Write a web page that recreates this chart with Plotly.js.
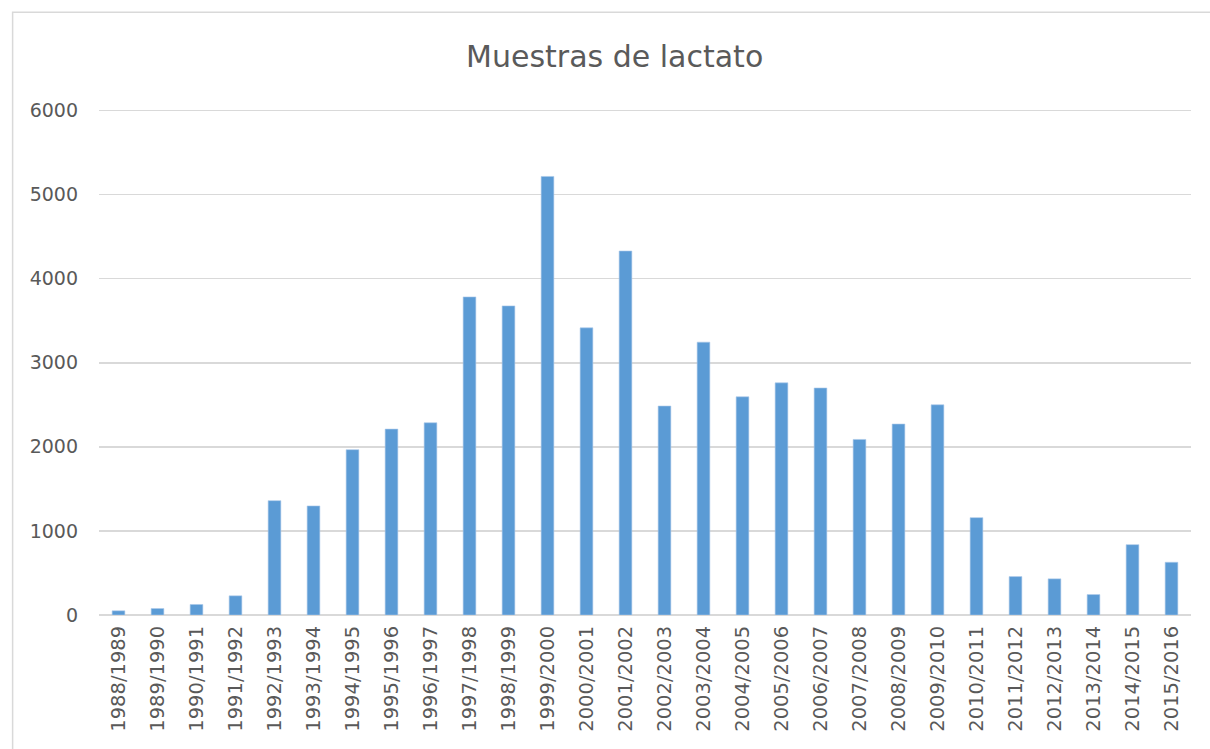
<!DOCTYPE html>
<html>
<head>
<meta charset="utf-8">
<script src="https://cdn.plot.ly/plotly-3.0.1.min.js"></script>
<style>html,body{margin:0;padding:0;background:#fff;}#chart{width:1210px;height:749px;}</style>
</head>
<body>
<div id="chart"></div>
<script>
const temporadas = ["1988/1989","1989/1990","1990/1991","1991/1992","1992/1993","1993/1994","1994/1995","1995/1996","1996/1997","1997/1998","1998/1999","1999/2000","2000/2001","2001/2002","2002/2003","2003/2004","2004/2005","2005/2006","2006/2007","2007/2008","2008/2009","2009/2010","2010/2011","2011/2012","2012/2013","2013/2014","2014/2015","2015/2016"];
const muestras = [50,77,125,228,1360,1297,1966,2211,2286,3783,3676,5216,3415,4329,2485,3245,2595,2761,2700,2088,2271,2500,1158,457,430,243,837,627];
const yTicks = [0,1000,2000,3000,4000,5000,6000];
const tituloGrafico = "Muestras de lactato";

const trace = {
  type: "bar",
  x: temporadas,
  y: muestras,
  marker: {color: "#5b9bd5", line: {color: "#a9c8ea", width: 0.6}},
  hoverinfo: "x+y"
};

const layout = {
  width: 1210,
  height: 749,
  paper_bgcolor: "#ffffff",
  plot_bgcolor: "#ffffff",
  margin: {l: 98.5, r: 18.5, t: 107.8, b: 133.7, pad: 0},
  bargap: 0.675,
  showlegend: false,
  title: {
    text: tituloGrafico,
    font: {family: "DejaVu Sans", size: 30, color: "#5a5a5a"},
    x: 0.508, xanchor: "center", xref: "container",
    y: 0.925, yanchor: "middle", yref: "container"
  },
  xaxis: {
    type: "category",
    tickangle: -90,
    tickfont: {family: "DejaVu Sans", size: 19.5, color: "#595959"},
    showgrid: false,
    showline: false,
    zeroline: false,
    ticks: "",
    ticklabelstandoff: 6,
    fixedrange: true
  },
  yaxis: {
    range: [0, 6030],
    tickvals: yTicks,
    ticktext: yTicks.map(String),
    tickfont: {family: "DejaVu Sans", size: 19, color: "#595959"},
    showgrid: true,
    gridcolor: "#d9d9d9",
    gridwidth: 1.6,
    zeroline: true,
    zerolinecolor: "#d9d9d9",
    zerolinewidth: 1.6,
    showline: false,
    ticks: "",
    ticklabelstandoff: 20,
    fixedrange: true
  },
  shapes: [{
    type: "rect", xref: "paper", yref: "paper",
    x0: -0.0791, x1: 1.05, y0: -0.3, y1: 1.1888,
    line: {color: "#d9d9d9", width: 1.5},
    fillcolor: "rgba(0,0,0,0)", layer: "below"
  }]
};

Plotly.newPlot("chart", [trace], layout, {displayModeBar: false, staticPlot: true});
</script>
</body>
</html>
